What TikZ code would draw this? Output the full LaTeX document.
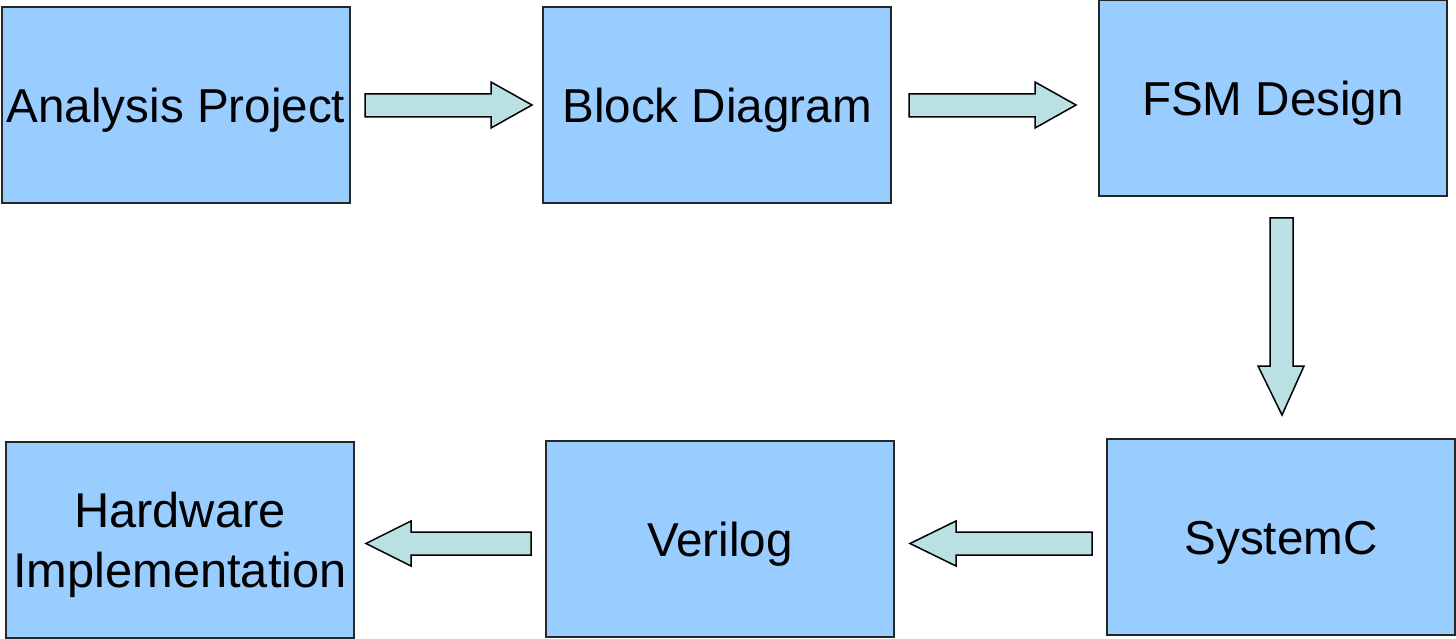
\documentclass[tikz,border=0pt]{standalone}
\usepackage{fontspec}
\setmainfont{Liberation Sans}
\definecolor{boxblue}{HTML}{99CCFF}
\definecolor{arrowfill}{HTML}{BBE0E3}
\begin{document}
\begin{tikzpicture}[x=1pt,y=-1pt,
  stagebox/.style={draw=black!85, line width=1.4pt, fill=boxblue,
    minimum width=348pt, minimum height=196pt, inner sep=0pt, align=center,
    font=\fontsize{47.6}{60}\selectfont, text height=34.5pt, text depth=0pt},
  blockarrow/.style={draw=black, line width=1.5pt, fill=arrowfill, line join=miter}]
\useasboundingbox (0,0) rectangle (1456,639);
\node[stagebox] (a) at (176,105) {Analysis Project};
\node[stagebox] (b) at (717,105) {Block Diagram};
\node[stagebox] (c) at (1273,98) {FSM Design};
\node[stagebox] (d) at (1281,537) {SystemC};
\node[stagebox] (e) at (720,539) {Verilog};
\node[stagebox, font=\fontsize{48.8}{60}\selectfont, text height=95pt] (f) at (180,540) {Hardware\\Implementation};
% block arrows
\draw[blockarrow] (365,94) -- (491,94) -- (491,82) -- (532,105) -- (491,128) -- (491,117) -- (365,117) -- cycle;
\draw[blockarrow] (909,94) -- (1035,94) -- (1035,82) -- (1076,105) -- (1035,128) -- (1035,117) -- (909,117) -- cycle;
\draw[blockarrow] (1270,218) -- (1293,218) -- (1293,366) -- (1304,366) -- (1282,415) -- (1258,366) -- (1270,366) -- cycle;
\draw[blockarrow] (1092,532) -- (956,532) -- (956,521) -- (910,543.5) -- (956,566) -- (956,555) -- (1092,555) -- cycle;
\draw[blockarrow] (531,532) -- (411,532) -- (411,521) -- (366,543.5) -- (411,566) -- (411,555) -- (531,555) -- cycle;
\end{tikzpicture}
\end{document}
